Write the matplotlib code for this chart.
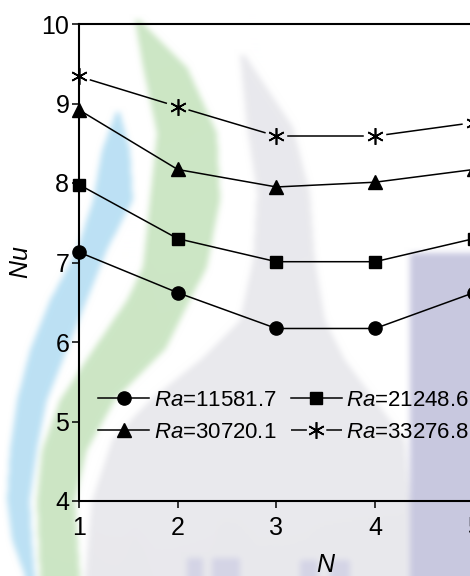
import matplotlib
matplotlib.use('Agg')
import matplotlib.pyplot as plt
from matplotlib.path import Path
from matplotlib.lines import Line2D
import numpy as np

plt.rcParams['font.family'] = ['Liberation Sans', 'DejaVu Sans']
plt.rcParams['mathtext.fontset'] = 'custom'
plt.rcParams['mathtext.it'] = 'Liberation Sans:italic'
plt.rcParams['mathtext.rm'] = 'Liberation Sans'

# number of units N and Nusselt number per Rayleigh number
N = [1, 2, 3, 4, 5]
ra_labels = ['11581.7', '21248.6', '30720.1', '33276.8']
nu_ra1 = [7.13, 6.62, 6.17, 6.17, 6.62]
nu_ra2 = [7.98, 7.30, 7.01, 7.01, 7.30]
nu_ra3 = [8.92, 8.17, 7.95, 8.01, 8.17]
nu_ra4 = [9.34, 8.96, 8.59, 8.59, 8.76]

W, H = 470, 576
fig = plt.figure(figsize=(W / 100, H / 100), dpi=100)


def band(ys, left, right):
    return list(zip(left, ys)) + list(zip(right[::-1], ys[::-1]))


def box_blur(img, r):
    # separable box blur, edges padded
    for axis in (0, 1):
        pad = [(0, 0)] * img.ndim
        pad[axis] = (r + 1, r)
        a = np.pad(img, pad, mode='edge').cumsum(axis=axis)
        n = img.shape[axis]
        hi = np.take(a, np.arange(2 * r + 1, 2 * r + 1 + n), axis=axis)
        lo = np.take(a, np.arange(0, n), axis=axis)
        img = (hi - lo) / (2 * r + 1)
    return img


# faint logo behind the plot, painted in pixel space
logo = [
    (band([55, 127, 193, 260, 320, 360, 400, 440, 500, 576],
          [240, 247, 257, 253, 240, 200, 150, 112, 92, 85],
          [245, 293, 310, 315, 325, 345, 375, 405, 410, 410]), '#e9e9ed'),
    (band([112, 150, 200, 250, 300, 350, 400, 450, 500, 540, 576],
          [116, 102, 93, 77, 50, 30, 17, 10, 7, 12, 25],
          [120, 130, 133, 107, 87, 67, 47, 37, 30, 32, 35]), '#bce1f4'),
    (band([20, 67, 133, 200, 267, 300, 350, 400, 450, 500, 576],
          [135, 143, 157, 150, 143, 127, 93, 60, 42, 37, 40],
          [140, 187, 217, 220, 207, 190, 165, 115, 87, 75, 80]), '#cce6c5'),
    ([(410, 253), (470, 253), (470, 576), (410, 576)], '#c8c8e0'),
    ([(187, 558), (203, 558), (203, 576), (187, 576)], '#d4d4e6'),
    ([(212, 558), (240, 558), (240, 576), (212, 576)], '#d4d4e6'),
    ([(300, 560), (318, 560), (318, 576), (300, 576)], '#d4d4e6'),
    ([(330, 560), (350, 560), (350, 576), (330, 576)], '#d4d4e6'),
]
yy, xx = np.mgrid[0:H, 0:W] + 0.5
grid = np.column_stack([xx.ravel(), yy.ravel()])
bg = np.ones((H, W, 3))
for poly, color in logo:
    mask = Path(poly).contains_points(grid).reshape(H, W)
    bg[mask] = matplotlib.colors.to_rgb(color)
bg = box_blur(box_blur(bg, 3), 3)
fig.figimage(bg, xo=0, yo=0, origin='upper', zorder=-10)

# axes: x=1 at 79px, 98.7px per unit; y=4 at 501px, y=10 at 24px
x_px_per = 98.7
ax = fig.add_axes([79 / W, (H - 501) / H, 5 * x_px_per / W, (501 - 24) / H])
ax.set_facecolor('none')
ax.set_xlim(1, 6)
ax.set_ylim(4, 10)

star = (6, 2, 0)
style = dict(color='black', lw=1.1, clip_on=False)
ax.plot(N, nu_ra1, marker='o', ms=9.5, **style)
ax.plot(N, nu_ra2, marker='s', ms=9, **style)
ax.plot(N, nu_ra3, marker='^', ms=10, **style)
ax.plot(N, nu_ra4, marker=star, ms=12, mew=1.2, ls='none', **style)

# the asterisk series leaves a small gap between line and marker
gap = 12
pts = ax.transData.transform(np.column_stack([N, nu_ra4]))
for p, q in zip(pts[:-1], pts[1:]):
    d = (q - p) / np.hypot(*(q - p))
    seg = ax.transData.inverted().transform([p + gap * d, q - gap * d])
    ax.plot(seg[:, 0], seg[:, 1], **style)

for side in ['left', 'bottom', 'top']:
    ax.spines[side].set_linewidth(1.5)
ax.spines['right'].set_visible(False)

ax.set_xticks(N)
ax.set_yticks(range(4, 11))
ax.tick_params(axis='both', direction='out', length=5, width=1.1,
               labelsize=18, pad=2)
ax.tick_params(axis='x', pad=6)
ax.set_xlabel('$N$', fontsize=18, labelpad=9)
ax.set_ylabel('$Nu$', fontsize=18, labelpad=6)

handles = [
    Line2D([], [], color='black', lw=1.1, marker='o', ms=9.5),
    Line2D([], [], color='black', lw=1.1, marker='^', ms=10),
    Line2D([], [], color='black', lw=1.1, marker='s', ms=9),
    Line2D([], [], color='black', lw=1.1, marker=star, ms=12, mew=1.2,
           dashes=(10.4, 12.7)),
]
labels = ['$Ra$=' + ra_labels[i] for i in (0, 2, 1, 3)]
ax.legend(handles, labels, ncol=2, loc='upper left',
          bbox_to_anchor=(98 / W, 1 - 390 / H), bbox_transform=fig.transFigure,
          frameon=False, fontsize=16, handlelength=2.3, handletextpad=0.2,
          columnspacing=0.65, labelspacing=0.5, borderpad=0, borderaxespad=0)

fig.savefig('out.png', dpi=100)
